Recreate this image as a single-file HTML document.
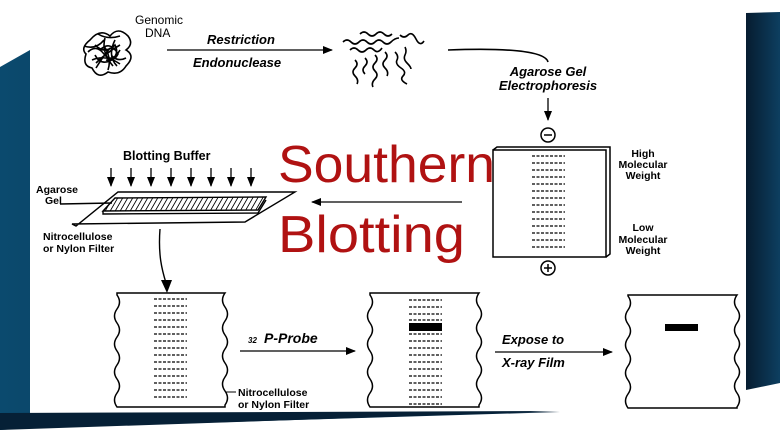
<!DOCTYPE html>
<html><head><meta charset="utf-8"><style>
body{margin:0;width:780px;height:440px;overflow:hidden;background:#fff}
svg{display:block}
text{font-family:"Liberation Sans",sans-serif}
.b{font-weight:bold;font-style:italic}
</style></head><body>
<svg width="780" height="440" viewBox="0 0 780 440">
<defs>
<linearGradient id="g1" x1="0" y1="0" x2="1" y2="0"><stop offset="0" stop-color="#0b4a6e"/><stop offset="1" stop-color="#06223a"/></linearGradient>
<linearGradient id="g2" x1="0" y1="0" x2="1" y2="0"><stop offset="0" stop-color="#061c30"/><stop offset="1" stop-color="#0d3f60"/></linearGradient>
<marker id="ah" markerWidth="10" markerHeight="8" refX="9" refY="4" orient="auto" markerUnits="userSpaceOnUse"><path d="M0,0 L10,4 L0,8z" fill="#000"/></marker>
<pattern id="hatch" width="5" height="5" patternUnits="userSpaceOnUse" patternTransform="skewX(-30)"><line x1="2" y1="0" x2="2" y2="5" stroke="#000" stroke-width="1"/></pattern>
</defs>
<rect width="780" height="440" fill="#fff"/>
<path d="M0,67 L30,50 L30,413 L560,412 L30,428 L0,430z" fill="url(#g1)"/>
<path d="M0,413 L560,411 L0,430z" fill="#062036"/>
<path d="M746,13 L780,12 L780,383 L746,390z" fill="url(#g2)"/>
<g fill="none" stroke="#000" stroke-width="1.6">
<path d="M90,40 q10,-12 20,-4 q8,-10 18,0 q6,8 -2,14 q10,6 0,16 q-6,10 -18,6 q-10,8 -16,-4 q-10,-2 -6,-14 q-6,-6 4,-14z M95,45 q10,10 20,0 q5,10 -5,16 q-10,4 -15,-6 M100,50 q10,-10 18,4 q-4,8 -12,6 M92,60 q14,-6 28,4 M105,38 q-4,14 8,28 M115,40 q-8,16 2,26 M120,45 q-14,8 -24,18 M88,52 q8,-8 16,2 t16,-4 M96,68 q6,-10 14,-20 M108,70 q4,-12 -4,-24 M84,46 q12,4 20,-6 M98,34 q10,6 22,2 M112,56 q6,6 14,2"/>
<path d="M343,42 q4,-4 8,0 t8,0 t8,0 t8,0 t8,0 t8,0 t8,-4 M350,50 q4,-4 8,0 t8,0 t8,0 t8,-2 M360,34 q4,-4 8,0 t8,0 t8,0 t8,0 M355,60 q4,4 0,8 t0,8 t2,8 M365,58 q4,4 0,8 t0,8 M375,55 q4,4 0,8 t0,8 t0,8 t-2,8 M385,52 q4,4 0,8 t0,8 t2,8 M395,52 q4,4 2,8 t4,8 t2,8 t4,8 M400,35 q4,4 8,0 t8,4 t8,2 M405,47 q2,4 0,8 t2,8 t4,6"/>
<path d="M448,50 C500,48 545,50 548,62"/>
</g>
<text x="135" y="24" font-size="12">Genomic</text>
<text x="145" y="37" font-size="12">DNA</text>
<line x1="167" y1="50" x2="332" y2="50" stroke="#000" stroke-width="1.3" marker-end="url(#ah)"/>
<text x="207" y="44" font-size="13" class="b">Restriction</text>
<text x="193" y="67" font-size="13" class="b">Endonuclease</text>
<text x="548" y="76" font-size="13" class="b" text-anchor="middle">Agarose Gel</text>
<text x="548" y="90" font-size="13" class="b" text-anchor="middle">Electrophoresis</text>
<line x1="548" y1="98" x2="548" y2="120" stroke="#000" stroke-width="1.3" marker-end="url(#ah)"/>
<circle cx="548" cy="135" r="7" fill="none" stroke="#000" stroke-width="1.5"/><line x1="544" y1="135" x2="552" y2="135" stroke="#000" stroke-width="1.5"/>
<circle cx="548" cy="268" r="7" fill="none" stroke="#000" stroke-width="1.5"/><path d="M544,268h8M548,264v8" stroke="#000" stroke-width="1.5"/>
<rect x="493" y="150" width="113" height="107" fill="#fff" stroke="#000" stroke-width="1.5"/>
<path d="M493,150 L497,147 L610,147 L610,254 L606,257" fill="none" stroke="#000" stroke-width="1.5"/>
<g stroke="#000" stroke-width="1.3" stroke-dasharray="3,1.5">
<path d="M532,156h33M532,163h33M532,170h33M532,177h33M532,184h33M532,191h33M532,198h33M532,205h33M532,212h33M532,219h33M532,226h33M532,233h33M532,240h33M532,247h33"/>
</g>
<g font-size="10.5" text-anchor="middle" font-weight="bold">
<text x="643" y="157">High</text><text x="643" y="168">Molecular</text><text x="643" y="179">Weight</text>
<text x="643" y="231">Low</text><text x="643" y="243">Molecular</text><text x="643" y="254">Weight</text>
</g>
<text x="278" y="182" font-size="52" fill="#b01212" textLength="217" lengthAdjust="spacingAndGlyphs">Southern</text>
<text x="278" y="252" font-size="52" fill="#b01212" textLength="187" lengthAdjust="spacingAndGlyphs">Blotting</text>
<line x1="462" y1="202" x2="312" y2="202" stroke="#000" stroke-width="1.3" marker-end="url(#ah)"/>
<text x="123" y="160" font-size="12.5" font-weight="bold">Blotting Buffer</text>
<g stroke="#000" stroke-width="1.3">
<line x1="111" y1="168" x2="111" y2="186" marker-end="url(#ah)"/><line x1="131" y1="168" x2="131" y2="186" marker-end="url(#ah)"/><line x1="151" y1="168" x2="151" y2="186" marker-end="url(#ah)"/><line x1="171" y1="168" x2="171" y2="186" marker-end="url(#ah)"/><line x1="191" y1="168" x2="191" y2="186" marker-end="url(#ah)"/><line x1="211" y1="168" x2="211" y2="186" marker-end="url(#ah)"/><line x1="231" y1="168" x2="231" y2="186" marker-end="url(#ah)"/><line x1="251" y1="168" x2="251" y2="186" marker-end="url(#ah)"/>
</g>
<g fill="none" stroke="#000" stroke-width="1.4">
<path d="M118,192 L295,192 L245,222 L72,224 L76,226 Z"/>
<path d="M115,198 L266,197 L258,210 L103,211 Z" fill="url(#hatch)"/>
<path d="M103,211 L103,214 L258,213 L266,200"/>
<path d="M60,204 L112,203"/>
<path d="M160,229 C158,255 162,270 166,283"/>
</g>
<path d="M161,280 L167,293 L172,280z" fill="#000"/>
<g font-size="10.5" font-weight="bold">
<text x="36" y="193">Agarose</text><text x="45" y="204">Gel</text>
<text x="43" y="240">Nitrocellulose</text><text x="43" y="252">or Nylon Filter</text>
<text x="238" y="396">Nitrocellulose</text><text x="238" y="408">or Nylon Filter</text>
</g>
<line x1="225" y1="392" x2="236" y2="392" stroke="#000"/>
<g fill="#fff" stroke="#000" stroke-width="1.5">
<path d="M117,293 H225 q-5,7 0,14 t0,14 t0,14 t0,14 t0,14 t0,14 t0,14 t0,14 V407 H117 q-5,-7 0,-14 t0,-14 t0,-14 t0,-14 t0,-14 t0,-14 t0,-14 t0,-14z"/>
<path d="M370,293 H479 q-5,7 0,14 t0,14 t0,14 t0,14 t0,14 t0,14 t0,14 t0,14 V407 H370 q-5,-7 0,-14 t0,-14 t0,-14 t0,-14 t0,-14 t0,-14 t0,-14 t0,-14z"/>
<path d="M628,295 H737 q-5,7 0,14 t0,14 t0,14 t0,14 t0,14 t0,14 t0,14 t0,14 V408 H628 q-5,-7 0,-14 t0,-14 t0,-14 t0,-14 t0,-14 t0,-14 t0,-14 t0,-14z"/>
</g>
<g stroke="#000" stroke-width="1.3" stroke-dasharray="3,1.5">
<path d="M154,299h33M154,306h33M154,313h33M154,320h33M154,327h33M154,334h33M154,341h33M154,348h33M154,355h33M154,362h33M154,369h33M154,376h33M154,383h33M154,390h33M154,397h33"/>
<path d="M409,300h33M409,307h33M409,314h33M409,320h33M409,334h33M409,341h33M409,348h33M409,355h33M409,362h33M409,369h33M409,376h33M409,383h33M409,390h33M409,397h33M409,404h33"/>
</g>
<rect x="409" y="323" width="33" height="8" fill="#000"/>
<rect x="665" y="324" width="33" height="7" fill="#000"/>
<line x1="240" y1="351" x2="355" y2="351" stroke="#000" stroke-width="1.3" marker-end="url(#ah)"/>
<text x="248" y="343" font-size="8" class="b">32</text>
<text x="264" y="343" font-size="14" class="b">P-Probe</text>
<line x1="495" y1="352" x2="612" y2="352" stroke="#000" stroke-width="1.3" marker-end="url(#ah)"/>
<text x="502" y="344" font-size="13" class="b">Expose to</text>
<text x="502" y="367" font-size="13" class="b">X-ray Film</text>
</svg>
</body></html>
